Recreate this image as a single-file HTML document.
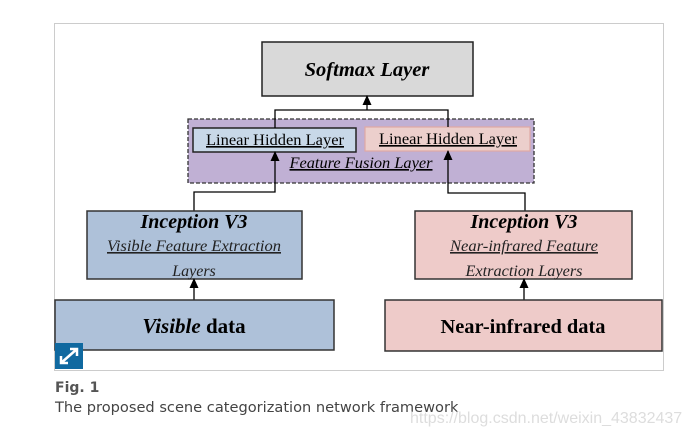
<!DOCTYPE html>
<html><head><style>
body{margin:0;width:690px;height:440px;background:#fff;position:relative;overflow:hidden}
svg{position:absolute;left:0;top:0}
.cap{position:absolute;font-family:"DejaVu Sans","Liberation Sans",sans-serif;color:#555}
</style></head><body>
<svg width="690" height="440" viewBox="0 0 690 440" font-family="Liberation Serif, serif">
<defs><marker id="a" markerWidth="10" markerHeight="10" refX="9" refY="4.5" orient="auto" markerUnits="userSpaceOnUse"><path d="M0,0 L10,4.5 L0,9 z" fill="#000"/></marker></defs>
<rect x="54.5" y="23.5" width="609" height="347" fill="#fff" stroke="#ccc"/>
<rect x="262" y="42" width="211" height="54" fill="#d9d9d9" stroke="#222" stroke-width="1.5"/>
<text x="367" y="76" text-anchor="middle" font-size="20.5" font-weight="bold" font-style="italic">Softmax Layer</text>
<rect x="188" y="119" width="346" height="64" fill="#c0b0d4" stroke="#333" stroke-width="1.3" stroke-dasharray="4,2"/>
<rect x="193" y="128" width="163" height="24" fill="#c8d8e8" stroke="#222" stroke-width="1.5"/>
<text x="275" y="145" text-anchor="middle" font-size="16.3" text-decoration="underline" textLength="138" lengthAdjust="spacingAndGlyphs">Linear Hidden Layer</text>
<rect x="365" y="127" width="165" height="24" fill="#eccfcc" stroke="#e0a8a4" stroke-width="1.2"/>
<text x="448" y="144" text-anchor="middle" font-size="16.3" text-decoration="underline" textLength="138" lengthAdjust="spacingAndGlyphs">Linear Hidden Layer</text>
<text x="361" y="168" text-anchor="middle" font-size="16.3" font-style="italic" text-decoration="underline" textLength="143" lengthAdjust="spacingAndGlyphs">Feature Fusion Layer</text>
<path d="M275,128 V110 H448 V127" fill="none" stroke="#000" stroke-width="1.3"/>
<line x1="367" y1="110" x2="367" y2="96" stroke="#000" stroke-width="1.3" marker-end="url(#a)"/>
<path d="M194,211 V192 H275 V152" fill="none" stroke="#000" stroke-width="1.3" marker-end="url(#a)"/>
<path d="M525,211 V193 H448 V151" fill="none" stroke="#000" stroke-width="1.3" marker-end="url(#a)"/>
<rect x="87" y="211" width="215" height="68" fill="#aec1d9" stroke="#333" stroke-width="1.5"/>
<text x="194" y="228" text-anchor="middle" font-size="20" font-weight="bold" font-style="italic" textLength="107" lengthAdjust="spacingAndGlyphs">Inception V3</text>
<text x="194" y="251" text-anchor="middle" font-size="16" font-style="italic" text-decoration="underline" fill="#222" textLength="174" lengthAdjust="spacingAndGlyphs">Visible Feature Extraction</text>
<text x="194" y="276" text-anchor="middle" font-size="16" font-style="italic" fill="#222">Layers</text>
<rect x="415" y="211" width="217" height="68" fill="#eecbc9" stroke="#333" stroke-width="1.5"/>
<text x="524" y="228" text-anchor="middle" font-size="20" font-weight="bold" font-style="italic" textLength="107" lengthAdjust="spacingAndGlyphs">Inception V3</text>
<text x="524" y="251" text-anchor="middle" font-size="16" font-style="italic" text-decoration="underline" fill="#222" textLength="148" lengthAdjust="spacingAndGlyphs">Near-infrared Feature</text>
<text x="524" y="276" text-anchor="middle" font-size="16" font-style="italic" fill="#222" textLength="117" lengthAdjust="spacingAndGlyphs">Extraction Layers</text>
<line x1="194" y1="300" x2="194" y2="279" stroke="#000" stroke-width="1.3" marker-end="url(#a)"/>
<line x1="524" y1="300" x2="524" y2="279" stroke="#000" stroke-width="1.3" marker-end="url(#a)"/>
<rect x="55" y="300" width="279" height="50" fill="#aec1d9" stroke="#333" stroke-width="1.5"/>
<text x="194" y="333" text-anchor="middle" font-size="21" font-weight="bold"><tspan font-style="italic">Visible</tspan> data</text>
<rect x="385" y="300" width="277" height="51" fill="#eecbc9" stroke="#333" stroke-width="1.5"/>
<text x="523" y="333" text-anchor="middle" font-size="20.5" font-weight="bold" textLength="165" lengthAdjust="spacingAndGlyphs">Near-infrared data</text>
<rect x="55" y="343" width="28" height="26" fill="#1069a0"/>
<path d="M61,363 L77,349 M70,349 H77 V356 M61,356 V363 H68" stroke="#fff" stroke-width="2.5" fill="none"/>
</svg>
<div class="cap" style="left:55px;top:380px;font-size:14px;font-weight:bold">Fig. 1</div>
<div class="cap" style="left:55px;top:399px;font-size:14.6px;color:#444">The proposed scene categorization network framework</div>
<div class="cap" style="left:410px;top:410px;font-size:16px;color:#ddd;font-family:'Liberation Sans',sans-serif">https://blog.csdn.net/weixin_43832437</div>
</body></html>
